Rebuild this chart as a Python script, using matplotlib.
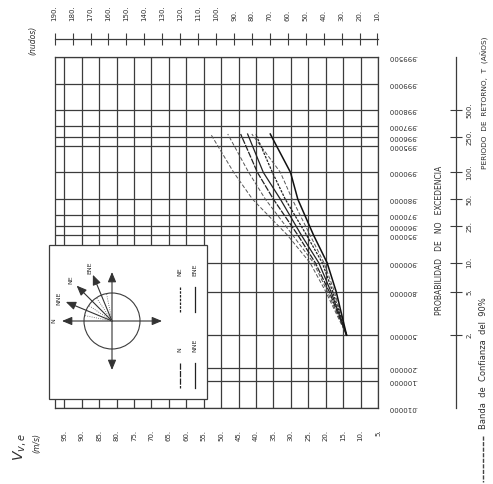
import numpy as np
import matplotlib.pyplot as plt
from matplotlib.patches import Rectangle, Circle, FancyArrowPatch

KNOT = 0.514444

# probability of non exceedance (gumbel paper) and speed grid
prob_ticks = [0.01, 0.1, 0.2, 0.5, 0.8, 0.9, 0.95, 0.96, 0.97, 0.98, 0.99,
              0.995, 0.996, 0.997, 0.998, 0.999, 0.9995]
prob_labels = [f"{p:.6f}"[1:] for p in prob_ticks]
speed_ticks = list(range(5, 100, 5))
knot_ticks = list(range(10, 200, 10))
return_periods = [2, 5, 10, 25, 50, 100, 250, 500]

# curves, speed (m/s) at each probability
curve_probs = [0.5, 0.8, 0.9, 0.95, 0.98, 0.99, 0.9963]
v_n = [14, 19, 23, 28, 35, 39.6, 44.4]
v_nne = [14, 18.5, 22, 27, 33, 37.9, 42.4]
v_ne = [14, 18, 21, 25.5, 31.6, 35.3, 40.1]
v_ene = [14, 17, 19.6, 23.5, 28, 30.1, 35.9]
band_1 = [14, 20, 24.5, 31, 41, 46.4, 53]
band_2 = [14, 19.5, 23.5, 29.5, 37.3, 42.1, 48.1]
band_3 = [14, 17.5, 20.5, 24.5, 29.6, 33.0, 41.2]

directions = ["N", "NNE", "NE", "ENE"]
bearings = [0, 22.5, 45, 67.5]

INK = "#3c3c3c"
TXT = "#2e2e2e"


def gumbel(p):
    return -np.log(-np.log(np.asarray(p, dtype=float)))


def y_to_period(y):
    y = np.asarray(y, dtype=float)
    return 1.0 / (1.0 - np.exp(-np.exp(-y)))


def period_to_y(t):
    t = np.clip(np.asarray(t, dtype=float), 1.0001, None)
    return -np.log(-np.log(1.0 - 1.0 / t))


fig = plt.figure(figsize=(4.93, 4.84), dpi=100)
W, H = 493, 484
x0, x1, y0, y1 = 54.5, 378, 57, 408
ax = fig.add_axes([x0 / W, 1 - y1 / H, (x1 - x0) / W, (y1 - y0) / H])
ax.set_xlim(97.8, 5)
ax.set_ylim(gumbel(0.01), gumbel(0.9995))

for v in speed_ticks:
    ax.axvline(v, color=INK, lw=0.9, zorder=1)
for p in prob_ticks:
    ax.axhline(gumbel(p), color=INK, lw=0.9, zorder=1)
for s in ax.spines.values():
    s.set_color(INK)
    s.set_linewidth(0.9)

yc = gumbel(curve_probs)
ax.plot(v_n, yc, color="#222", lw=0.9, ls=(0, (5, 1)), zorder=3)
ax.plot(v_nne, yc, color="#222", lw=0.9, zorder=3)
ax.plot(v_ne, yc, color="#222", lw=0.9, ls=(0, (2, 1)), zorder=3)
ax.plot(v_ene, yc, color="#111", lw=1.1, zorder=3)
for band in (band_1, band_2, band_3):
    ax.plot(band, yc, color="#555", lw=0.7, ls=(0, (4, 2)), zorder=2)

ax.set_xticks(speed_ticks, labels=[f"{v}." for v in speed_ticks])
ax.tick_params(axis="x", length=0, pad=15.5, labelsize=5, labelcolor=TXT,
               labelrotation=90)
ax.yaxis.tick_right()
ax.set_yticks(gumbel(prob_ticks), labels=prob_labels)
ax.tick_params(axis="y", length=0, pad=7, labelsize=5, labelcolor=TXT)
for lab in ax.get_yticklabels():
    lab.set_rotation(180)
    lab.set_va("center")

# knots scale on top
sec = ax.secondary_xaxis((y1 - 39) / (y1 - y0), functions=(lambda v: v / KNOT, lambda k: k * KNOT))
sec.set_xticks(knot_ticks, labels=[f"{k}." for k in knot_ticks])
sec.tick_params(direction="inout", length=8.6, width=0.8, color=INK, pad=9,
                labelsize=5, labelcolor=TXT, labelrotation=90)
sec.spines["top"].set_color(INK)
sec.spines["top"].set_linewidth(0.9)

# return period scale on the right
sec2 = ax.secondary_yaxis((456 - x0) / (x1 - x0), functions=(y_to_period, period_to_y))
sec2.set_yticks(return_periods, labels=[f"{t}." for t in return_periods])
sec2.yaxis.set_minor_locator(plt.NullLocator())
sec2.tick_params(direction="inout", length=9, width=0.8, color=INK, pad=3,
                 labelsize=5, labelcolor=TXT, labelrotation=90)
sec2.spines["right"].set_color(INK)
sec2.spines["right"].set_linewidth(0.9)
for lab in sec2.get_yticklabels():
    lab.set_va("center")

# overlay in pixel coordinates for texts and the inset key
ov = fig.add_axes([0, 0, 1, 1])
ov.set_xlim(0, W)
ov.set_ylim(H, 0)
ov.axis("off")
ov.set_zorder(5)

ov.text(20, 447, r"$V_{v,e}$", rotation=90, fontsize=10, color=TXT, ha="center", va="center")
ov.text(37, 443, "(m/s)", rotation=90, fontsize=5.5, style="italic", color=TXT, ha="center", va="center")
ov.text(33, 40, "(nudos)", rotation=90, fontsize=5.5, style="italic", color=TXT, ha="center", va="center")
ov.text(440, 240, "PROBABILIDAD   DE   NO   EXCEDENCIA", rotation=90, fontsize=5.5,
        color=TXT, ha="center", va="center")
ov.text(485, 103, "PERIODO  DE  RETORNO,  T  (AÑOS)", rotation=90, fontsize=5.3,
        color=TXT, ha="center", va="center")
ov.text(483, 429, "Banda  de  Confianza  del  90%", rotation=90, rotation_mode="anchor",
        fontsize=6, color=TXT, ha="left", va="center")
ov.plot([483, 483], [436, 482], color="#444", lw=1.0, ls=(0, (3, 1)))

# inset key
ov.add_patch(Rectangle((49, 245), 158, 154, facecolor="white", edgecolor=INK, lw=0.9))
cx, cy = 112, 321
ov.add_patch(Circle((cx, cy), 28, fill=False, edgecolor=INK, lw=0.8))


def arrow(xa, ya, xb, yb, style):
    ov.add_patch(FancyArrowPatch((xa, ya), (xb, yb), arrowstyle=style, mutation_scale=5,
                                 color="#333", lw=0.8, shrinkA=0, shrinkB=0))


arrow(cx + 50, cy, cx - 50, cy, "<|-|>,head_length=1.2,head_width=0.5")
arrow(cx, cy + 49, cx, cy - 49, "<|-|>,head_length=1.2,head_width=0.5")
for b in bearings[1:]:
    r = np.radians(b)
    arrow(cx, cy, cx - 50 * np.cos(r), cy - 50 * np.sin(r), "-|>,head_length=1.2,head_width=0.5")
for b in [11.25, 33.75, 56.25, 78.75]:
    r = np.radians(b)
    ov.plot([cx, cx - 28 * np.cos(r)], [cy, cy - 28 * np.sin(r)], color="#555", lw=0.6, ls=":")
for name, b in zip(directions, bearings):
    r = np.radians(b)
    ov.text(cx - 58 * np.cos(r), cy - 58 * np.sin(r), name, rotation=90, fontsize=4.5,
            color=TXT, ha="center", va="center")

key_x = [180, 195, 180, 195]
key_top = [363, 363, 287, 287]
key_ls = [(0, (5, 1)), "-", (0, (2, 1)), "-"]
for name, kx, kt, ls in zip(directions, key_x, key_top, key_ls):
    ov.plot([kx, kx], [kt, kt + 25], color="#222", lw=0.9, ls=ls)
    ov.text(kx, kt - 11, name, rotation=90, rotation_mode="anchor", fontsize=4.5,
            color=TXT, ha="left", va="center")

fig.savefig("out.png", dpi=100)
